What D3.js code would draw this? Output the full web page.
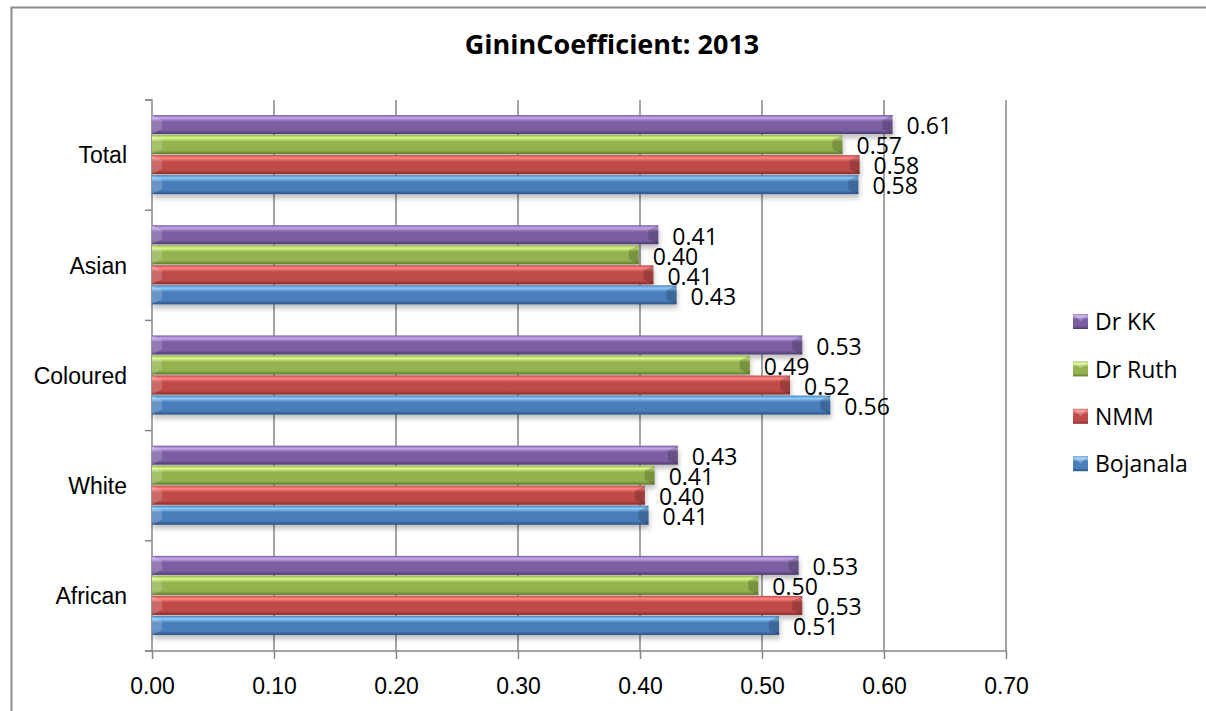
<!DOCTYPE html>
<html><head><meta charset="utf-8">
<script src="https://cdn.jsdelivr.net/npm/d3@7"></script>
<style>
html,body{margin:0;padding:0;background:#fff;}
svg{display:block;font-family:"Open Sans",Lato,sans-serif;}
</style></head>
<body>
<svg id="c" width="1206" height="711"></svg>
<script>
const categories = ["Total","Asian","Coloured","White","African"];
const seriesNames = ["Dr KK","Dr Ruth","NMM","Bojanala"];
const drKK     = [0.607,0.415,0.533,0.431,0.530];
const drRuth   = [0.566,0.399,0.490,0.412,0.497];
const nmm      = [0.580,0.411,0.523,0.404,0.533];
const bojanala = [0.579,0.430,0.556,0.407,0.514];
const labelsKK     = ["0.61","0.41","0.53","0.43","0.53"];
const labelsRuth   = ["0.57","0.40","0.49","0.41","0.50"];
const labelsNMM    = ["0.58","0.41","0.52","0.40","0.53"];
const labelsBoj    = ["0.58","0.43","0.56","0.41","0.51"];
const xTicks = [0,0.1,0.2,0.3,0.4,0.5,0.6,0.7];
const title = "GininCoefficient: 2013";

const seriesValues = [drKK, drRuth, nmm, bojanala];
const seriesLabels = [labelsKK, labelsRuth, labelsNMM, labelsBoj];
const colors = [
  {base:"#7b5fa3", light:"#c6a8ec", dark:"#4d3a6c"},
  {base:"#93b34f", light:"#def98c", dark:"#5f7a2c"},
  {base:"#bf4c49", light:"#ff8683", dark:"#872b29"},
  {base:"#4a7ebb", light:"#8ecbf8", dark:"#2b5186"}
];

const svg = d3.select("#c");
const defs = svg.append("defs");
colors.forEach((c,i)=>{
  const g = defs.append("linearGradient").attr("id","g"+i).attr("x1",0).attr("y1",0).attr("x2",0).attr("y2",1);
  g.append("stop").attr("offset","0%").attr("stop-color",c.base);
  g.append("stop").attr("offset","15%").attr("stop-color",c.light);
  g.append("stop").attr("offset","35%").attr("stop-color",c.base);
  g.append("stop").attr("offset","80%").attr("stop-color",c.base);
  g.append("stop").attr("offset","100%").attr("stop-color",c.dark);
});
const sh = defs.append("filter").attr("id","sh").attr("x","-5%").attr("y","-20%").attr("width","110%").attr("height","170%");
sh.append("feGaussianBlur").attr("in","SourceAlpha").attr("stdDeviation",2.5).attr("result","b");
sh.append("feOffset").attr("dy",4).attr("dx",1).attr("result","o");
sh.append("feComponentTransfer").append("feFuncA").attr("type","linear").attr("slope",0.25);
const mrg = sh.append("feMerge"); mrg.append("feMergeNode"); mrg.append("feMergeNode").attr("in","SourceGraphic");

// frame
svg.append("rect").attr("x",11.5).attr("y",7.5).attr("width",1220).attr("height",720)
  .attr("fill","none").attr("stroke","#8c8c8c").attr("stroke-width",2);

const x = d3.scaleLinear().domain([0,0.7]).range([152,1006]);
const y = d3.scaleBand().domain(categories).range([100,651]).paddingInner(0).paddingOuter(0);
const yInner = d3.scaleBand().domain(seriesNames).range([0,y.bandwidth()]).paddingOuter(0.75).paddingInner(0);

// gridlines
svg.append("g").selectAll("line").data(xTicks.slice(1)).join("line")
  .attr("x1",d=>x(d)).attr("x2",d=>x(d)).attr("y1",100).attr("y2",651)
  .attr("stroke","#868686").attr("stroke-width",1.5);

// x axis
const xAxis = d3.axisBottom(x).tickValues(xTicks).tickFormat(d3.format(".2f")).tickSize(8);
const gx = svg.append("g").attr("transform","translate(0,651)").call(xAxis);
gx.select(".domain").attr("stroke","#868686").attr("stroke-width",1.5).attr("d","M145,0H1006");
gx.selectAll(".tick line").attr("stroke","#868686").attr("stroke-width",1.5);
gx.selectAll(".tick text").attr("font-size",23).attr("fill","#000").attr("y",43).attr("dy",0);

// y axis
const yAxis = d3.axisLeft(y).tickSize(0).tickPadding(25);
const gy = svg.append("g").attr("transform","translate(152,0)").call(yAxis);
gy.select(".domain").attr("stroke","#868686").attr("stroke-width",1.5).attr("d","M-7,100H0V651");
gy.selectAll(".tick text").attr("font-size",23).attr("fill","#000").attr("dy","0.36em");
const bounds = [100].concat(categories.map(c=>y(c)+y.bandwidth()));
svg.append("g").selectAll("line").data(bounds).join("line")
  .attr("x1",145).attr("x2",152).attr("y1",d=>d).attr("y2",d=>d)
  .attr("stroke","#868686").attr("stroke-width",1.5);

// bars
const barData = [];
categories.forEach((c,ci)=>seriesNames.forEach((s,si)=>barData.push({c,s,si,v:seriesValues[si][ci],l:seriesLabels[si][ci]})));
const bars = svg.append("g");
bars.selectAll("rect").data(barData).join("rect")
  .attr("x",x(0)).attr("y",d=>y(d.c)+yInner(d.s))
  .attr("width",d=>x(d.v)-x(0)).attr("height",yInner.bandwidth()-1)
  .attr("fill",d=>"url(#g"+d.si+")").attr("filter","url(#sh)");
bars.selectAll("path.lt").data(barData).join("path").attr("class","lt")
  .attr("d",d=>{const y0=y(d.c)+yInner(d.s),h=yInner.bandwidth()-1,x0=x(0);return `M${x0},${y0}L${x0+10},${y0+5}L${x0+10},${y0+h-5}L${x0},${y0+h}Z`;})
  .attr("fill","#fff").attr("opacity",0.18);
bars.selectAll("path.rt").data(barData).join("path").attr("class","rt")
  .attr("d",d=>{const y0=y(d.c)+yInner(d.s),h=yInner.bandwidth()-1,x1=x(d.v);return `M${x1},${y0}L${x1-10},${y0+5}L${x1-10},${y0+h-5}L${x1},${y0+h}Z`;})
  .attr("fill","#000").attr("opacity",0.18);

// labels
svg.append("g").selectAll("text").data(barData).join("text")
  .attr("x",d=>x(d.v)+14).attr("y",d=>y(d.c)+yInner(d.s)+yInner.bandwidth()/2+1)
  .attr("dy","0.36em").attr("font-size",23).attr("fill","#000").text(d=>d.l);

// title
svg.append("text").attr("x",612).attr("y",54).attr("text-anchor","middle")
  .attr("font-size",27).attr("font-weight","bold").attr("fill","#000").text(title);

// legend
const lg = svg.append("g").attr("transform","translate(1073,322)");
seriesNames.forEach((s,i)=>{
  const g = lg.append("g").attr("transform",`translate(0,${i*47.4})`);
  g.append("rect").attr("x",0).attr("y",-8).attr("width",15).attr("height",15).attr("fill","url(#g"+i+")");
  g.append("path").attr("d","M0,-8L7.5,-0.5L15,-8Z").attr("fill","#fff").attr("opacity",0.25);
  g.append("text").attr("x",22).attr("y",0).attr("dy","0.36em").attr("font-size",23).attr("fill","#000").text(s);
});
</script>
</body></html>
